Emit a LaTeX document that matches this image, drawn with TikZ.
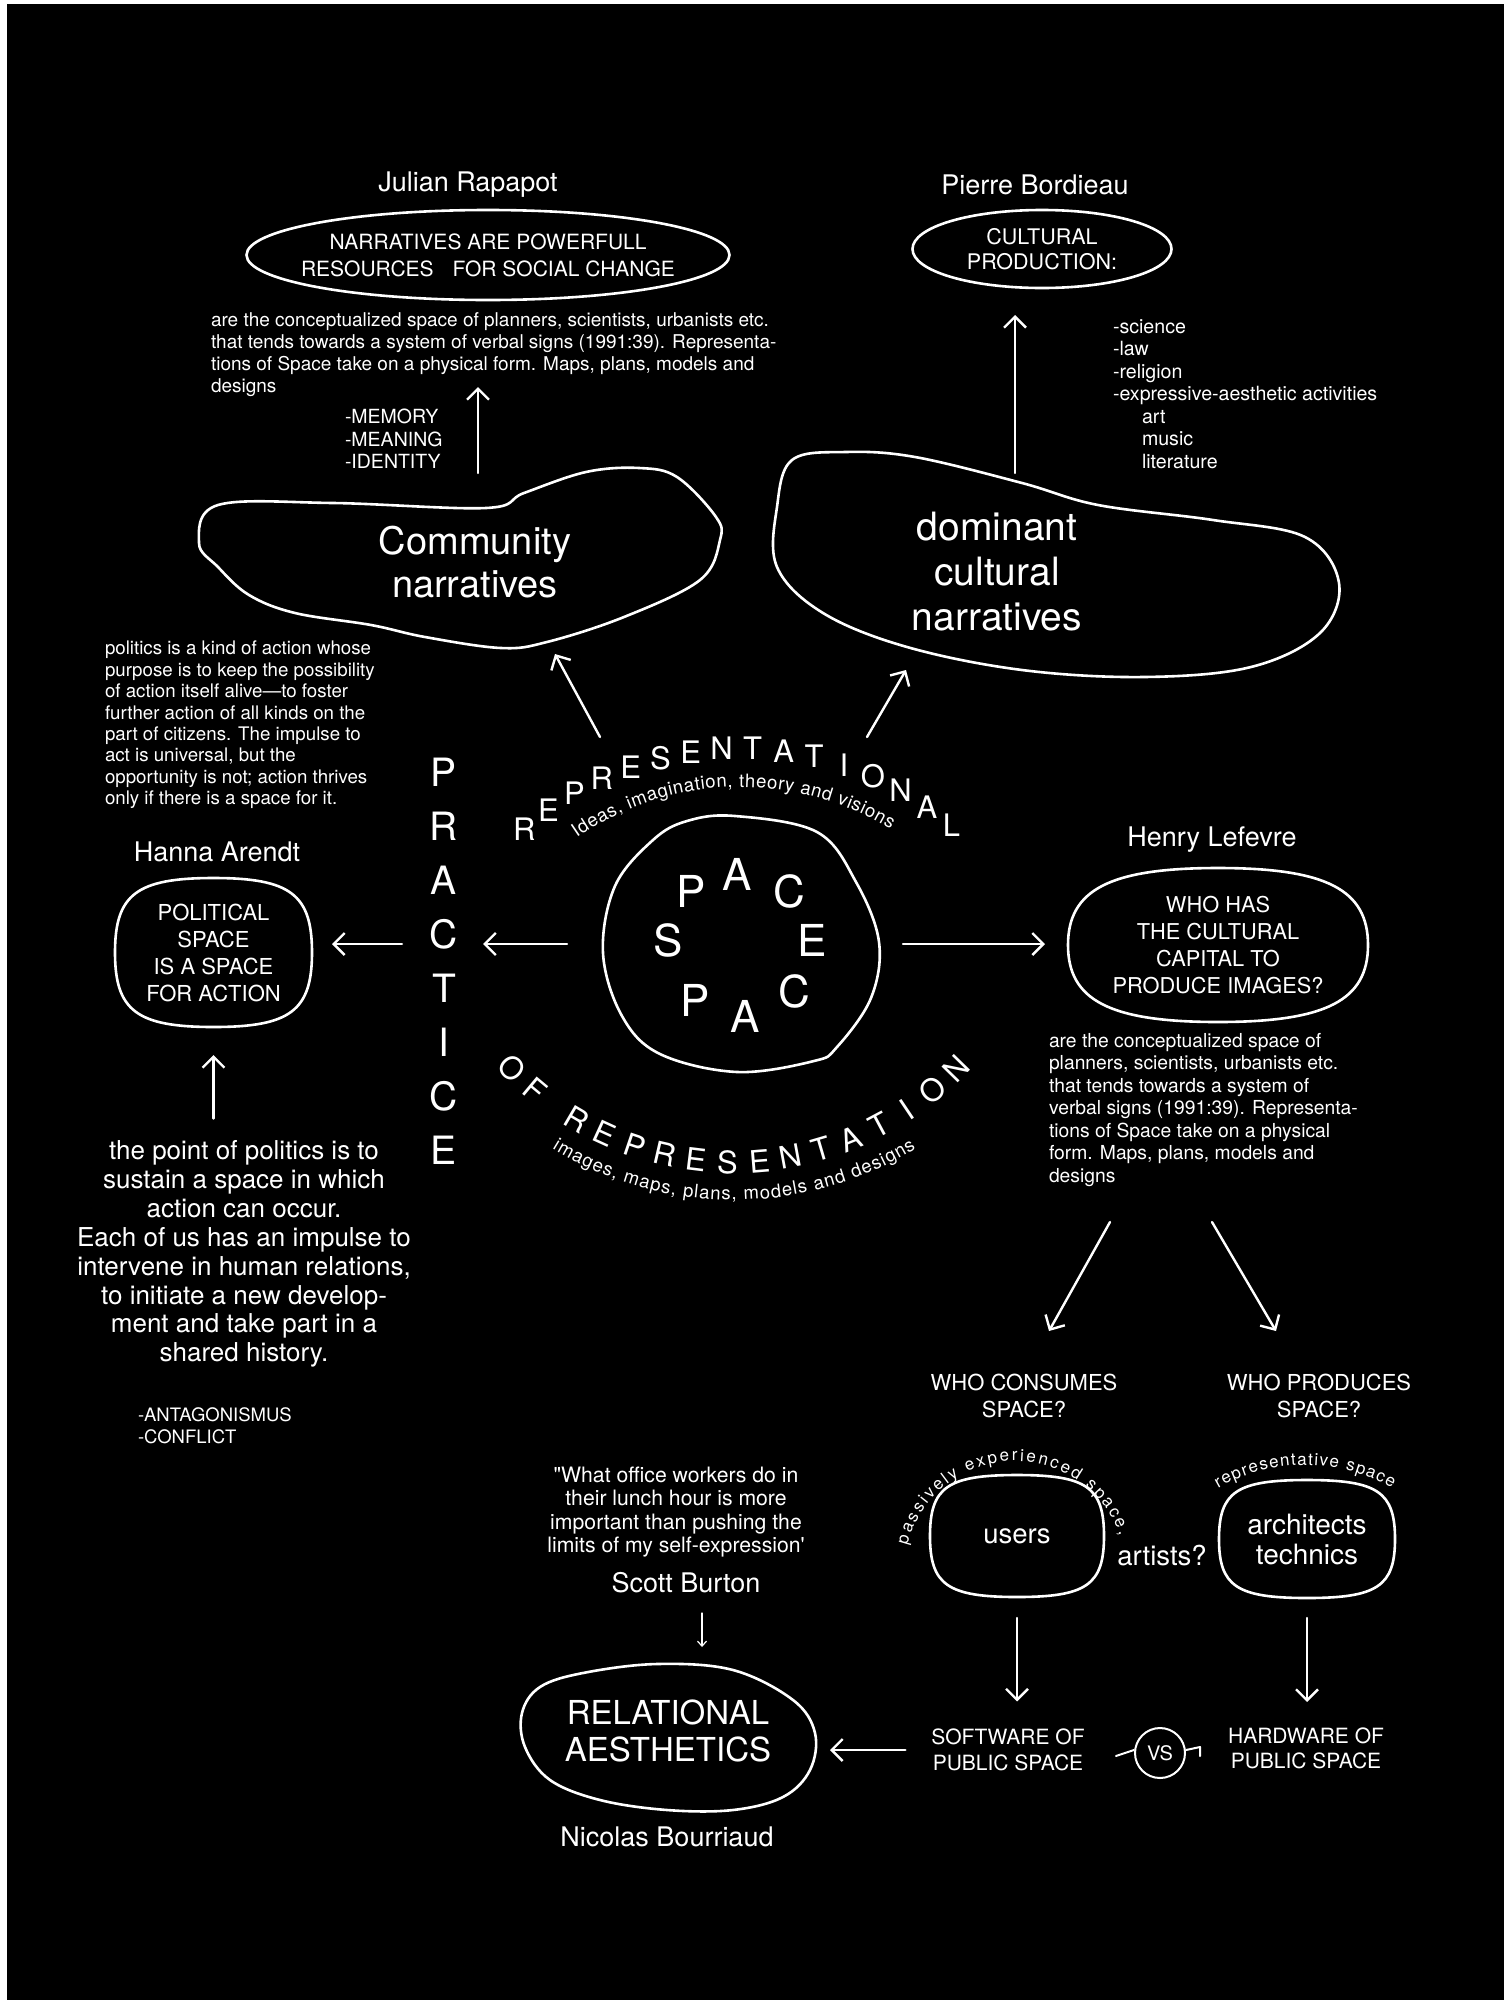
\documentclass[tikz,border=0pt]{standalone}
\usepackage{fontspec}
\setmainfont{TeX Gyre Heros}
\usetikzlibrary{positioning, arrows.meta, calc, decorations.text}
\newcommand{\txtsize}[2]{\fontsize{#1}{#2}\selectfont}
\newcommand{\arcsmall}{\fontsize{17}{17}\selectfont}
\newcommand{\arcmid}{\fontsize{18.5}{18.5}\selectfont}
% rounded outline around a box node, #2 = tension (0.55 ellipse ... 1 rectangle)
\newcommand{\squircle}[2]{%
  \draw[outline] (#1.east)
    .. controls ($(#1.east)!#2!(#1.north east)$) and ($(#1.north)!#2!(#1.north east)$) .. (#1.north)
    .. controls ($(#1.north)!#2!(#1.north west)$) and ($(#1.west)!#2!(#1.north west)$) .. (#1.west)
    .. controls ($(#1.west)!#2!(#1.south west)$) and ($(#1.south)!#2!(#1.south west)$) .. (#1.south)
    .. controls ($(#1.south)!#2!(#1.south east)$) and ($(#1.east)!#2!(#1.south east)$) .. (#1.east) -- cycle;}

\begin{document}
\begin{tikzpicture}[x=1pt, y=1pt, color=white, line cap=round, line join=round,
    every node/.append style={inner sep=0, outer sep=0},
    outline/.style={line width=2.6},
    arr/.style={line width=2.4, -{Straight Barb[length=11pt, width=22pt]}},
    thinarr/.style={line width=1.2, -{Straight Barb[length=5pt, width=9pt]}},
    stub/.style={line width=2},
    box/.style={rectangle, align=center},
    person/.style={font=\txtsize{27}{30}},
    caps/.style={align=center, font=\txtsize{21}{27}},
    para/.style={anchor=west, align=left, font=\txtsize{19}{22}},
    arcletter/.style={font=\txtsize{31}{31}},
    spaceletter/.style={font=\txtsize{44}{44}}]

\useasboundingbox (0,0) rectangle (1504,-2000);
\fill[white] (0,0) rectangle (1504,-2000);
\fill[black] (7,-4) rectangle (1504,-2000);

% Julian Rapapot
\node[person] (julian) at (468,-185) {Julian Rapapot};
\node[box, caps, minimum width=483, minimum height=90] (narr) at (488,-255) {NARRATIVES ARE POWERFULL\\RESOURCES\hspace{19pt}FOR SOCIAL CHANGE};
\squircle{narr}{0.56}
\node[para] (jrpara) at (211,-355) {are the conceptualized space of planners, scientists, urbanists etc.\\that tends towards a system of verbal signs (1991:39). Representa-\\tions of Space take on a physical form. Maps, plans, models and\\designs};
\node[anchor=west, align=left, font=\txtsize{19.5}{22.5}] (memory) at (345,-439) {-MEMORY\\-MEANING\\-IDENTITY};

% community narratives
\draw[outline] plot[smooth cycle, tension=0.6] coordinates {(199,-543) (218,-505) (333,-503) (486,-508) (524,-493) (586,-472) (639,-468) (677,-477) (716,-517) (720,-540) (700,-580) (624,-617) (547,-642) (501,-648) (425,-637) (371,-625) (295,-613) (249,-595) (218,-567)};
\node[align=center, font=\txtsize{38}{43}] (comm) at (475,-562) {Community\\narratives};
\coordinate (commtop) at (478,-473);
\coordinate (narrlow) at (478,-387);
\draw[arr] (commtop) -- (narrlow);

% Pierre Bordieau
\node[person] (pierre) at (1035,-185) {Pierre Bordieau};
\node[box, caps, font=\txtsize{21.5}{25}, minimum width=259, minimum height=78] (cultprod) at (1042,-249) {CULTURAL\\PRODUCTION:};
\squircle{cultprod}{0.56}
\node[anchor=west, align=left, font=\txtsize{19.6}{22.5}] (cultlist) at (1113,-394) {-science\\-law\\-religion\\-expressive-aesthetic activities\\\hspace*{29pt}art\\\hspace*{29pt}music\\\hspace*{29pt}literature};

% dominant cultural narratives
\draw[outline] plot[smooth cycle, tension=0.6] coordinates {(792,-460) (846,-452) (915,-457) (1022,-483) (1098,-505) (1213,-520) (1305,-537) (1339,-583) (1320,-633) (1251,-667) (1144,-677) (1022,-670) (907,-647) (823,-613) (777,-567) (777,-507)};
\node[align=center, font=\txtsize{39}{45}] (domi) at (997,-572) {dominant\\cultural\\narratives};
\coordinate (domtop) at (1015,-473);
\draw[arr, shorten >=27] (domtop) -- (domtop |- cultprod.south);

% SPACE
\draw[outline] plot[smooth cycle, tension=0.6] coordinates {(735,-816) (817,-832) (856,-882) (879,-942) (871,-998) (837,-1047) (814,-1061) (737,-1072) (660,-1054) (622,-1016) (603,-953) (615,-886) (653,-840) (687,-821)};
\node[circle, minimum size=276] (spc) at (741,-944) {};
\foreach \ch/\x/\y [count=\i] in {S/668/940, P/691/891, A/737/874, C/789/891, E/812/940, C/794/991, A/745/1016, P/695/1000}
  \node[spaceletter] (sp\i) at (\x,-\y) {\ch};

% arched words
\coordinate (repc) at (740,-1075);
\coordinate (ofc) at (734,-852);
\foreach \ch [count=\i] in {R,E,P,R,E,S,E,N,T,A,T,I,O,N,A,L}{
  \pgfmathsetmacro{\ang}{131.3-(\i-1)*5.44}
  \node[arcletter] (rep\i) at ($(repc)+(\ang:327)$) {\ch};
}
\foreach \ch/\ang [count=\i] in {O/224.3, F/230.1, R/239.6, E/245.4, P/251.3, R/257.1, E/263.0, S/268.8, E/274.7, N/280.5, T/286.4, A/292.2, T/298.1, I/303.9, O/309.8, N/315.7}
  \node[arcletter, rotate=\ang+90] (ofrep\i) at ($(ofc)+(\ang:310)$) {\ch};
\path[decorate, decoration={text along path, text color=white, text align={fit to path},
    text={|\arcmid|Ideas, imagination, theory and visions}}]
  ($(repc)+(124.5:288)$) arc[start angle=124.5, end angle=58.5, radius=288];
\path[decorate, decoration={text along path, text color=white, text align={fit to path},
    text={|\arcmid|images, maps, plans, models and designs}}]
  ($(ofc)+(238.5:348)$) arc[start angle=238.5, end angle=301.5, radius=348];

\coordinate (spcnw) at (600,-737);
\coordinate (commse) at (555,-654);
\coordinate (spcne) at (867,-737);
\coordinate (domsw) at (906,-670);
\draw[arr] (spcnw) -- (commse);
\draw[arr] (spcne) -- (domsw);

% PRACTICE and Hanna Arendt
\node[align=center, font=\txtsize{39}{54}] (practice) at (444,-961.5) {P\\R\\A\\C\\T\\I\\C\\E};
\draw[arr, shorten <=36, shorten >=25] (spc.west) -- (spc.west -| practice.east);
\node[para, font=\txtsize{18.7}{21.4}] (polpara) at (105,-725) {politics is a kind of action whose\\purpose is to keep the possibility\\of action itself alive—to foster\\further action of all kinds on the\\part of citizens. The impulse to\\act is universal, but the\\opportunity is not; action thrives\\only if there is a space for it.};
\node[person] (hanna) at (217,-852) {Hanna Arendt};
\node[box, caps, font=\txtsize{22}{27}, minimum width=197, minimum height=149] (political) at (213.5,-952.5) {POLITICAL\\SPACE\\IS A SPACE\\FOR ACTION};
\squircle{political}{0.78}
\draw[arr, shorten <=28, shorten >=20] (practice.west |- spc.west) -- (political.east |- spc.west);
\node[align=center, font=\txtsize{26}{28.9}] (point) at (244,-1254) {the point of politics is to\\sustain a space in which\\action can occur.\\Each of us has an impulse to\\intervene in human relations,\\to initiate a new develop-\\ment and take part in a\\shared history.};
\draw[arr, shorten <=22, shorten >=28] (political.south |- point.north) -- (political.south);
\node[anchor=west, align=left, font=\txtsize{18.5}{22}] (antag) at (138,-1426) {-ANTAGONISMUS\\-CONFLICT};

% Henry Lefevre
\node[person] (henryname) at (1212,-840) {Henry Lefevre};
\node[box, caps, font=\txtsize{21.8}{27}, minimum width=300, minimum height=154] (henry) at (1218,-945) {WHO HAS\\THE CULTURAL\\CAPITAL TO\\PRODUCE IMAGES?};
\squircle{henry}{0.72}
\draw[arr, shorten <=24, shorten >=23] (spc.east) -- (spc.east -| henry.west);
\node[para, font=\txtsize{19.3}{22.5}] (henrypara) at (1049,-1110) {are the conceptualized space of\\planners, scientists, urbanists etc.\\that tends towards a system of\\verbal signs (1991:39). Representa-\\tions of Space take on a physical\\form. Maps, plans, models and\\designs};
\coordinate (paraL) at (1110,-1222);
\coordinate (consumetip) at (1049,-1331);
\coordinate (paraR) at (1212,-1222);
\coordinate (producetip) at (1276,-1331);
\draw[arr] (paraL) -- (consumetip);
\draw[arr] (paraR) -- (producetip);

% consumers and producers
\node[caps, font=\txtsize{22}{27}] (consumes) at (1024,-1396) {WHO CONSUMES\\SPACE?};
\node[caps, font=\txtsize{22}{27}] (produces) at (1319,-1396) {WHO PRODUCES\\SPACE?};
\node[box, font=\txtsize{27.5}{30}, minimum width=174, minimum height=122] (users) at (1017,-1536) {users};
\squircle{users}{0.8}
\node[box, font=\txtsize{28}{30}, minimum width=176, minimum height=118] (arch) at (1307,-1539) {architects\\technics};
\squircle{arch}{0.8}
\node[font=\txtsize{27.5}{30}] (artists) at (1162,-1555) {artists?};
\coordinate (userc) at (1015,-1572);
\coordinate (archc) at (1305,-1639);
\path[decorate, decoration={text along path, text color=white, text align={fit to path},
    text={|\arcsmall|passively experienced space,}}]
  ($(userc)+(166:111)$) arc[start angle=166, end angle=19, radius=111];
\path[decorate, decoration={text along path, text color=white, text align={fit to path},
    text={|\arcsmall|representative space}}]
  ($(archc)+(120:174)$) arc[start angle=120, end angle=60, radius=174];

\node[caps, font=\txtsize{21}{26}] (software) at (1008,-1750) {SOFTWARE OF\\PUBLIC SPACE};
\node[caps, font=\txtsize{21}{25}] (hardware) at (1306,-1748) {HARDWARE OF\\PUBLIC SPACE};
\draw[arr, shorten <=21, shorten >=27.5] (users.south) -- (users.south |- software.north);
\draw[arr, shorten <=20, shorten >=25.5] (arch.south) -- (arch.south |- hardware.north);
\node[circle, draw, stub, minimum size=50, font=\txtsize{20}{20}] (vs) at (1160,-1753) {VS};
\draw[stub] ([shift={(-19,-3)}]vs.west) -- ([shift={(-1,3)}]vs.west);
\draw[stub] ([shift={(1,3)}]vs.east) -- ([shift={(15,6)}]vs.east) -- ([shift={(15,-3)}]vs.east);

% relational aesthetics
\node[align=center, font=\txtsize{21.2}{23.6}] (quote) at (676,-1512) {\textquotedbl What office workers do in\\their lunch hour is more\\important than pushing the\\limits of my self-expression\textquotesingle};
\node[person] (scott) at (686,-1583) {Scott Burton};
\draw[outline] plot[smooth cycle, tension=0.6] coordinates {(657,-1664) (733,-1670) (793,-1700) (815,-1733) (810,-1770) (783,-1797) (733,-1810) (667,-1810) (600,-1800) (550,-1780) (525,-1747) (522,-1713) (540,-1687) (583,-1673)};
\node[align=center, font=\txtsize{33}{37}] (relat) at (668,-1731) {RELATIONAL\\AESTHETICS};
\node[person] (nicolas) at (667,-1837) {Nicolas Bourriaud};
\coordinate (scottlow) at (702,-1613);
\coordinate (relN) at (702,-1647);
\draw[thinarr] (scottlow) -- (relN);
\coordinate (relE) at (830,-1750);
\draw[arr, shorten <=26] (software.west) -- (relE);
\end{tikzpicture}
\end{document}
